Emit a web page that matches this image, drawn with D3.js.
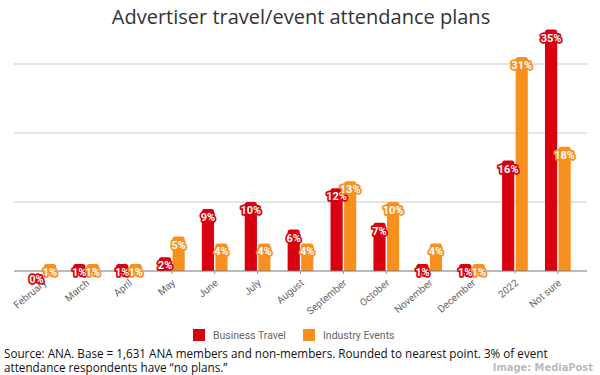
<!DOCTYPE html>
<html>
<head>
<meta charset="utf-8">
<script src="https://cdn.jsdelivr.net/npm/d3@7"></script>
<style>
  body { margin: 0; background: #fff; }
  svg { display: block; }
</style>
</head>
<body>
<svg id="chart" width="600" height="375"></svg>
<script>
// chart data
const months = ["February", "March", "April", "May", "June", "July", "August",
  "September", "October", "November", "December", "2022", "Not sure"];
const business_travel = [0, 1, 1, 2, 9, 10, 6, 12, 7, 1, 1, 16, 35];
const industry_events = [1, 1, 1, 5, 4, 4, 4, 13, 10, 4, 1, 31, 18];
const series_names = ["Business Travel", "Industry Events"];
const series_colors = ["#d9000f", "#f7901e"];
const y_ticks = [10, 20, 30];

const svg = d3.select("#chart");
const left = 14, right = 587, baseline = 271;

const x0 = d3.scaleBand().domain(months).range([left, right])
  .paddingInner(0.4).paddingOuter(0.38);
const x1 = d3.scaleBand().domain([0, 1]).range([0, x0.bandwidth()]).paddingInner(0.1);
const y = d3.scaleLinear().domain([0, 40]).range([baseline, baseline - 276]);

// title
svg.append("text")
  .attr("x", 301).attr("y", 24)
  .attr("text-anchor", "middle")
  .style("font-family", "'Open Sans', sans-serif")
  .style("font-size", "20px")
  .attr("fill", "#333")
  .text("Advertiser travel/event attendance plans");

// gridlines
svg.append("g").selectAll("line")
  .data(y_ticks)
  .enter().append("line")
  .attr("x1", left).attr("x2", right)
  .attr("y1", d => y(d)).attr("y2", d => y(d))
  .attr("stroke", "#dcdcdc").attr("stroke-width", 1.3);

// bars with rounded tops
const rows = [];
months.forEach((m, i) => {
  rows.push({ month: m, s: 0, v: business_travel[i] });
  rows.push({ month: m, s: 1, v: industry_events[i] });
});

const bar_path = d => {
  const bx = x0(d.month) + x1(d.s), w = x1.bandwidth();
  const top = y(d.v), r = Math.min(2.5, (baseline - top) / 2);
  return `M${bx},${baseline}V${top + r}Q${bx},${top} ${bx + r},${top}` +
    `H${bx + w - r}Q${bx + w},${top} ${bx + w},${top + r}V${baseline}Z`;
};

svg.append("g").selectAll("path")
  .data(rows)
  .enter().append("path")
  .attr("d", bar_path)
  .attr("fill", d => series_colors[d.s]);

// x axis line + ticks
svg.append("line")
  .attr("x1", left).attr("x2", right)
  .attr("y1", baseline).attr("y2", baseline)
  .attr("stroke", "#777").attr("stroke-width", 1);

svg.append("g").selectAll("line")
  .data(months)
  .enter().append("line")
  .attr("x1", d => x0(d) + x0.bandwidth() / 2)
  .attr("x2", d => x0(d) + x0.bandwidth() / 2)
  .attr("y1", baseline).attr("y2", baseline + 3)
  .attr("stroke", "#999");

svg.append("g").selectAll("text")
  .data(months)
  .enter().append("text")
  .attr("transform", d => `translate(${x0(d) + x0.bandwidth() / 2 + 4},${baseline + 13}) rotate(-40)`)
  .attr("text-anchor", "end")
  .style("font-family", "Roboto, sans-serif")
  .style("font-size", "10px")
  .attr("fill", "#666")
  .text(d => d);

// value labels
svg.append("g").selectAll("text")
  .data(rows)
  .enter().append("text")
  .attr("x", d => x0(d.month) + x1(d.s) + x1.bandwidth() / 2)
  .attr("y", d => y(d.v) + 12)
  .attr("text-anchor", "middle")
  .style("font-family", "Roboto, sans-serif")
  .style("font-size", "11px")
  .style("font-weight", "bold")
  .style("paint-order", "stroke")
  .attr("stroke", d => series_colors[d.s])
  .attr("stroke-width", 3.5)
  .attr("stroke-linejoin", "round")
  .attr("fill", "#fff")
  .text(d => d.v + "%");

// legend
const legend = svg.append("g");
const legend_x = [193, 303];
series_names.forEach((name, i) => {
  legend.append("rect")
    .attr("x", legend_x[i]).attr("y", 329)
    .attr("width", 12).attr("height", 12)
    .attr("fill", series_colors[i]);
  legend.append("text")
    .attr("x", legend_x[i] + 20).attr("y", 339)
    .style("font-family", "Roboto, sans-serif")
    .style("font-size", "10.5px")
    .attr("fill", "#666")
    .text(name);
});

// source note
const note = svg.append("text")
  .style("font-family", "'Open Sans', sans-serif")
  .style("font-size", "11.7px")
  .attr("fill", "#111");
note.append("tspan").attr("x", 4).attr("y", 358)
  .text("Source: ANA. Base = 1,631 ANA members and non-members. Rounded to nearest point. 3% of event");
note.append("tspan").attr("x", 4).attr("y", 372)
  .text("attendance respondents have \u201cno plans.\u201d");

svg.append("text")
  .attr("x", 593).attr("y", 371)
  .attr("text-anchor", "end")
  .style("font-family", "'Liberation Sans Narrow', 'DejaVu Sans Condensed', sans-serif")
  .style("font-size", "11px")
  .style("font-weight", "bold")
  .attr("fill", "#bbb")
  .text("Image: MediaPost");
</script>
</body>
</html>
